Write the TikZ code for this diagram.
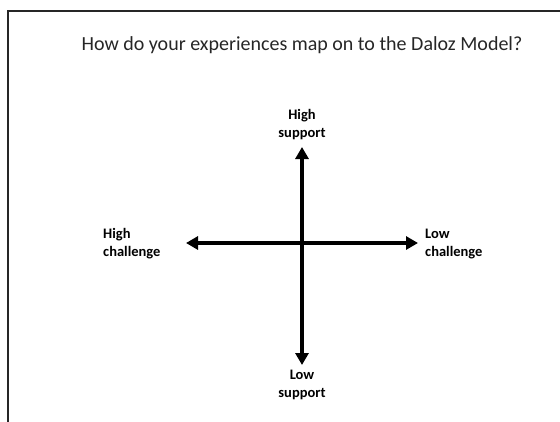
\documentclass[tikz,border=0pt]{standalone}
\usepackage{fontspec}
\setmainfont{Carlito}
\usetikzlibrary{arrows.meta}
\begin{document}
\begin{tikzpicture}[x=1pt,y=-1pt,
  axis/.style={line width=3.2pt,-{Triangle[length=12pt,width=13pt]}},
  lbl/.style={font=\bfseries\fontsize{14.5}{18}\selectfont,align=left,inner sep=0pt},
  lblc/.style={font=\bfseries\fontsize{14.5}{18}\selectfont,align=center,inner sep=0pt},
  frame/.style={line width=1.8pt,color=black!85}]
\useasboundingbox (0,0) rectangle (560,421);
\coordinate (fbl) at (8,422);
\coordinate (ftl) at (8,11);
\coordinate (ftr) at (561,11);
\draw[frame] (fbl) -- (ftl) -- (ftr);
\node[inner sep=0pt,font=\fontsize{20}{24}\selectfont,text=black!85] (title) at (302,45) {How do your experiences map on to the Daloz Model?};
\coordinate (c) at (302,243);
\coordinate (up) at (302,147);
\coordinate (down) at (302,365);
\coordinate (left) at (186,243);
\coordinate (right) at (418,243);
\draw[axis] (c) -- (up);
\draw[axis] (c) -- (down);
\draw[axis] (c) -- (left);
\draw[axis] (c) -- (right);
\node[lblc,anchor=south] (hs) at (302,140) {High\\support};
\node[lblc,anchor=north] (ls) at (302,370) {Low\\support};
\node[lbl,anchor=west] (hc) at (103,244) {High\\challenge};
\node[lbl,anchor=west] (lc) at (425,244) {Low\\challenge};
\end{tikzpicture}
\end{document}
